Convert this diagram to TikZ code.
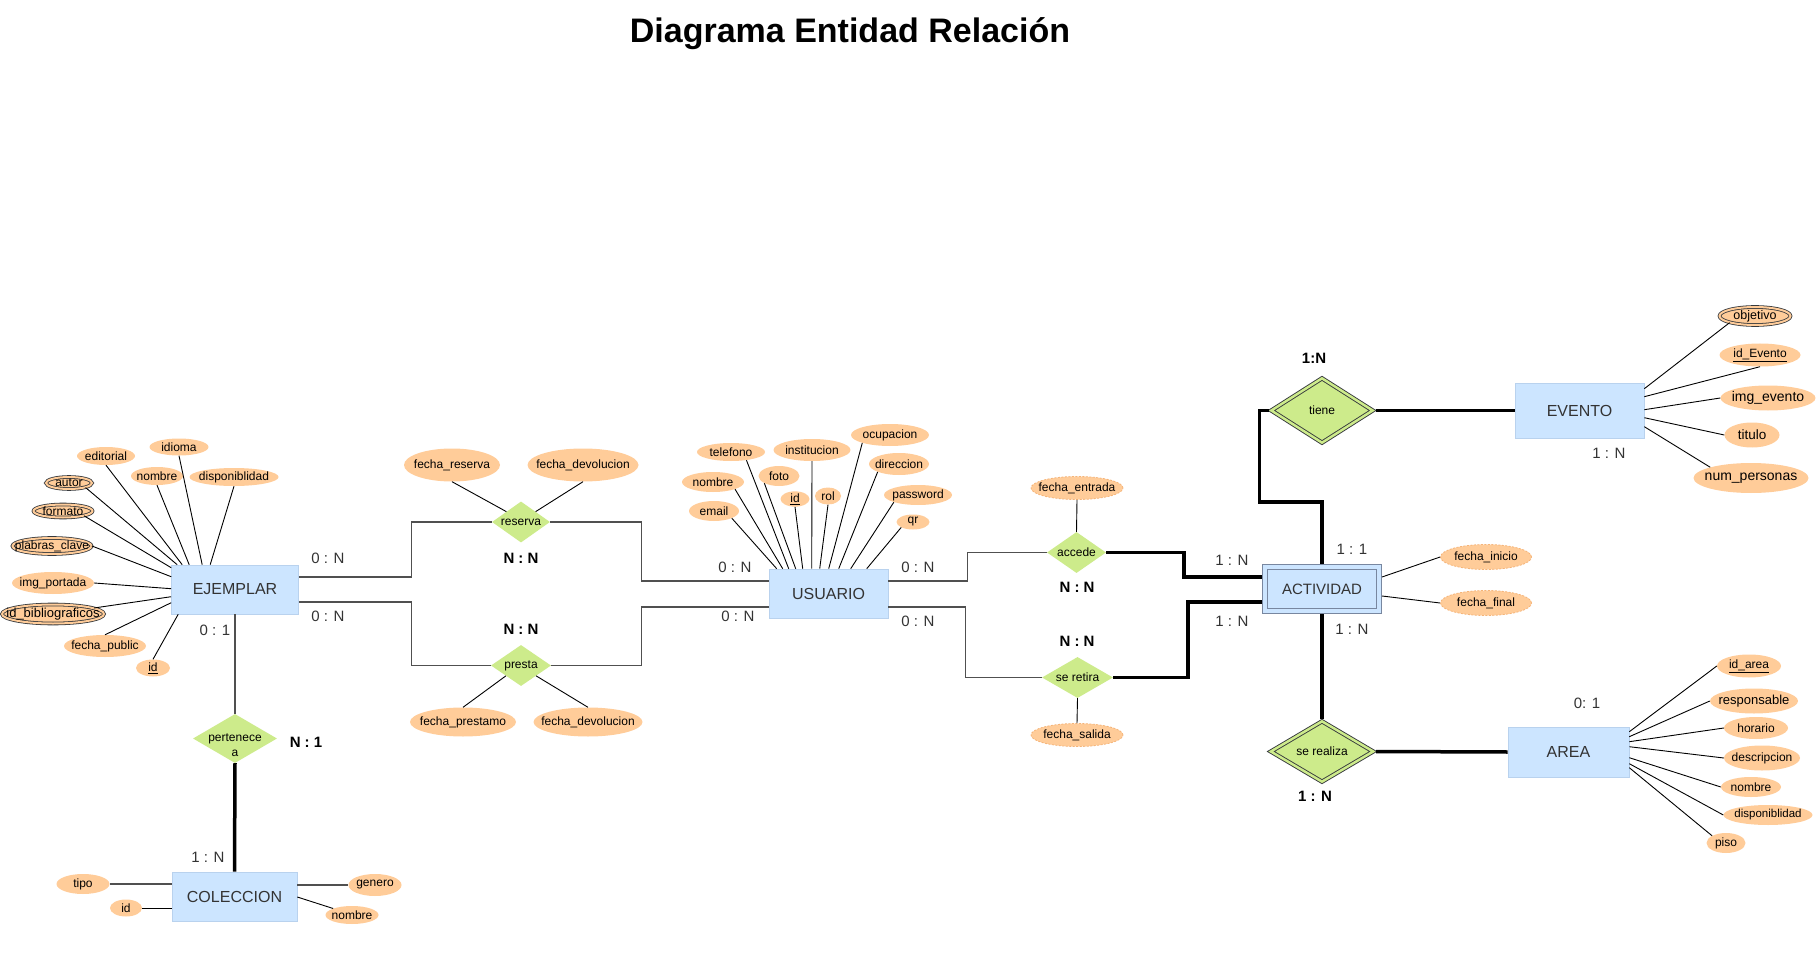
\documentclass[tikz,border=0pt]{standalone}
\usepackage{fontspec}
\setmainfont{Liberation Sans}
\usetikzlibrary{shapes.geometric}
\definecolor{entfill}{RGB}{204,229,255}
\definecolor{entdraw}{RGB}{185,210,238}
\definecolor{attrfill}{RGB}{255,204,153}
\definecolor{attrdash}{RGB}{245,180,120}
\definecolor{relfill}{RGB}{205,235,139}
\definecolor{darkline}{RGB}{54,57,61}
\definecolor{conn}{RGB}{80,80,80}
\definecolor{txt}{RGB}{51,51,51}
\definecolor{actdraw}{RGB}{120,135,160}
\newcommand{\fsz}[1]{\fontsize{#1pt}{#1pt}\selectfont}
\newcommand{\zb}[1]{\makebox[0pt]{#1}}
\tikzset{
 ent/.style={rectangle, fill=entfill, draw=entdraw, line width=0.6pt, inner sep=0pt, text=txt, font=\fsz{16}},
 attr/.style={ellipse, fill=attrfill, inner sep=0pt, text=black, font=\fsz{12}},
 mattr/.style={attr, draw=darkline, line width=0.8pt, double=attrfill, double distance=2pt},
 dattr/.style={attr, draw=attrdash, line width=0.8pt, dash pattern=on 2pt off 1.5pt},
 rel/.style={diamond, fill=relfill, inner sep=0pt, font=\fsz{12}, text=black},
 wrel/.style={rel, draw=darkline, line width=0.9pt, double=relfill, double distance=2.5pt, outer sep=2pt},
 card/.style={font=\fsz{15}, text=txt, inner sep=0pt},
 cardb/.style={font=\bfseries\fsz{15}, text=black, inner sep=0pt},
 al/.style={draw=black, line width=0.9pt},
 cl/.style={draw=conn, line width=1.2pt},
 tl/.style={draw=black, line width=3.5pt},
 sz/.style 2 args={minimum width=#1pt, minimum height=#2pt},
}
\begin{document}
\begin{tikzpicture}[x=1pt,y=-1pt]
\fill[white] (0,0) rectangle (1820,973);
\useasboundingbox (0,0) rectangle (1820,973);

\node[inner sep=0pt, font=\bfseries\fsz{34}] (title) at (850,34) {Diagrama Entidad Relación};

% ---------- entities ----------
\node[ent, sz={127}{49}] (ej) at (235,589.5) {EJEMPLAR};
\node[ent, sz={119}{49}] (us) at (828.5,593.5) {USUARIO};
\node[ent, sz={125}{49}] (col) at (234.5,896.5) {COLECCION};
\node[ent, sz={129}{55}] (ev) at (1579.5,410.5) {EVENTO};
\node[ent, sz={121}{50}] (area) at (1568.5,752) {AREA};
\node[ent, sz={114}{44}, draw=actdraw, line width=1pt, double=entfill, double distance=4pt, outer sep=3pt, font=\fsz{15}] (act) at (1322,589) {ACTIVIDAD};

% ---------- relations ----------
\node[rel, sz={58}{41}] (res) at (521,522) {\zb{reserva}};
\node[rel, sz={60}{41}] (pre) at (521,665.5) {\zb{presta}};
\node[rel, sz={84}{49}] (pert) at (235,738.5) {\zb{\raisebox{-11pt}[0pt][0pt]{\begin{tabular}{@{}c@{}}pertenece\\[3pt]a\end{tabular}}}};
\node[rel, sz={59}{41}] (acc) at (1076.5,552.5) {\zb{accede}};
\node[rel, sz={71}{41}] (ret) at (1077.5,677.5) {\zb{se retira}};
\node[wrel, sz={103}{66}] (tiene) at (1322,410.5) {\zb{tiene}};
\node[wrel, sz={104}{62}] (real) at (1322,751.5) {\zb{se realiza}};

% ---------- EJEMPLAR attributes ----------
\node[attr, sz={58}{18}] (edi) at (106,456) {\zb{editorial}};
\node[attr, sz={59}{17}] (idi) at (179,447) {\zb{idioma}};
\node[mattr, sz={46}{12}] (aut) at (69,483) {\zb{autor}};
\node[attr, sz={52}{18}] (enom) at (157,476) {\zb{nombre}};
\node[attr, sz={89}{18}] (edis) at (234,477) {\zb{disponiblidad}};
\node[mattr, sz={59}{13}] (form) at (63,511) {\zb{formato}};
\node[mattr, sz={79}{16}] (pcl) at (52,546) {\zb{plabras\_clave}};
\node[attr, sz={82}{22}] (imgp) at (53,583) {\zb{img\_portada}};
\node[mattr, sz={102}{19}, font=\fsz{13}] (idb) at (53,614) {\zb{id\_bibliograficos}};
\node[attr, sz={82}{22}] (fpub) at (105,646) {\zb{fecha\_public}};
\node[attr, sz={34}{17}] (eid) at (153,668) {\zb{\underline{id}}};

\draw[al] (aut.south east) -- ([xshift=6pt]ej.north west);
\draw[al] (edi.south) -- ([xshift=11pt]ej.north west);
\draw[al] (enom.south) -- ([xshift=18pt]ej.north west);
\draw[al] (idi.south) -- ([xshift=31pt]ej.north west);
\draw[al] (edis.south) -- ([xshift=39pt]ej.north west);
\draw[al] (form.south east) -- ([yshift=-3pt]ej.north west);
\draw[al] (pcl.east) -- ([yshift=-12pt]ej.north west);
\draw[al] (imgp.east) -- ([yshift=-24pt]ej.north west);
\draw[al] (idb) -- ([yshift=-32pt]ej.north west);
\draw[al] (fpub.north) -- ([yshift=-38pt]ej.north west);
\draw[al] (eid.north) -- ([xshift=7pt]ej.south west);

% ---------- USUARIO attributes ----------
\node[attr, sz={68}{18}] (tel) at (731,452) {\zb{telefono}};
\node[attr, sz={77}{22}] (inst) at (812,450) {\zb{institucion}};
\node[attr, sz={78}{22}] (ocu) at (890,435) {\zb{ocupacion}};
\node[attr, sz={62}{20}] (unom) at (713,482) {\zb{nombre}};
\node[attr, sz={41}{20}] (foto) at (779,476) {\zb{foto}};
\node[attr, sz={60}{22}] (dir) at (899,464) {\zb{direccion}};
\node[attr, sz={29}{15}] (uid) at (795,499) {\zb{\underline{id}}};
\node[attr, sz={26}{17}] (rol) at (828,496) {\zb{rol}};
\node[attr, sz={68}{20}] (pass) at (918,495) {\zb{password}};
\node[attr, sz={50}{20}] (mail) at (714,511) {\zb{email}};
\node[attr, sz={33}{15}] (qr) at (913,522) {\zb{qr}};

\draw[al] (mail.south east) -- ([xshift=8pt]us.north west);
\draw[al] (unom.south east) -- ([xshift=14pt]us.north west);
\draw[al] (tel.-28) -- ([xshift=20pt]us.north west);
\draw[al] (foto.south west) -- ([xshift=27pt]us.north west);
\draw[al] (uid.south) -- ([xshift=34pt]us.north west);
\draw[al] (inst.south) -- ([xshift=43pt]us.north west);
\draw[al] (rol.south) -- ([xshift=51pt]us.north west);
\draw[al] (ocu.south west) -- ([xshift=60pt]us.north west);
\draw[al] (dir.south west) -- ([xshift=70pt]us.north west);
\draw[al] (pass.south west) -- ([xshift=82pt]us.north west);
\draw[al] (qr.south west) -- ([xshift=98pt]us.north west);

% ---------- relation attributes ----------
\node[attr, sz={96}{33}] (fres) at (452,465) {\zb{fecha\_reserva}};
\node[attr, sz={111}{33}] (fdev1) at (583,465) {\zb{fecha\_devolucion}};
\node[attr, sz={106}{29}] (fpre) at (463,722) {\zb{fecha\_prestamo}};
\node[attr, sz={109}{29}] (fdev2) at (588,722) {\zb{fecha\_devolucion}};
\node[dattr, sz={92}{23}] (fent) at (1077,488) {\zb{fecha\_entrada}};
\node[dattr, sz={92}{23}] (fsal) at (1077,735) {\zb{fecha\_salida}};

\draw[al] (fres.south) -- (res.north west);
\draw[al] (fdev1.south) -- (res.north east);
\draw[al] (fpre.north) -- (pre.south west);
\draw[al] (fdev2.north) -- (pre.south east);
\draw[al] (fent.south) -- (acc.north);
\draw[al] (fsal.north) -- (ret.south);

% ---------- COLECCION attributes ----------
\node[attr, sz={53}{20}] (tipo) at (83,884) {\zb{tipo}};
\node[attr, sz={32}{17}] (cid) at (126,908) {\zb{id}};
\node[attr, sz={53}{22}] (gen) at (375,885) {\zb{genero}};
\node[attr, sz={53}{18}] (cnom) at (352,915) {\zb{nombre}};

\draw[cl, line width=1.6pt] (tipo.east) -- ([yshift=12.5pt]col.west);
\draw[al] (cid.east) -- ([yshift=-11.5pt]col.west);
\draw[cl, line width=1.6pt] ([yshift=11.5pt]col.east) -- (gen.west);
\draw[al] ([yshift=-0.5pt]col.east) -- (cnom.north west);

% ---------- EVENTO attributes ----------
\node[mattr, sz={71}{18}, font=\fsz{12.5}] (obj) at (1755,316) {\zb{objetivo}};
\node[attr, sz={81}{23}] (ide) at (1760,355) {\zb{\underline{id\_Evento}}};
\node[attr, sz={95}{25}, font=\fsz{14}] (imge) at (1768,398) {\zb{img\_evento}};
\node[attr, sz={55}{25}, font=\fsz{13.5}] (tit) at (1752,435) {\zb{titulo}};
\node[attr, sz={115}{30}, font=\fsz{14}] (nump) at (1751,478) {\zb{num\_personas}};

\draw[al] (obj.south west) -- ([yshift=-6pt]ev.north east);
\draw[al] (ide.south) -- ([yshift=-14pt]ev.north east);
\draw[al] (imge.west) -- ([yshift=-27pt]ev.north east);
\draw[al] (tit.west) -- ([yshift=-35pt]ev.north east);
\draw[al] (nump.north west) -- ([yshift=-44pt]ev.north east);

% ---------- ACTIVIDAD attributes ----------
\node[dattr, sz={91}{25}] (fini) at (1486,557) {\zb{fecha\_inicio}};
\node[dattr, sz={91}{25}] (ffin) at (1486,603) {\zb{fecha\_final}};
\draw[al] ([yshift=12pt]act.east) -- (fini.west);
\draw[al] ([yshift=-7pt]act.east) -- (ffin.west);

% ---------- AREA attributes ----------
\node[attr, sz={64}{23}] (ida) at (1749,666) {\zb{\underline{id\_area}}};
\node[attr, sz={88}{25}, font=\fsz{13}] (resp) at (1754,701) {\zb{responsable}};
\node[attr, sz={64}{22}] (hor) at (1756,728) {\zb{horario}};
\node[attr, sz={76}{25}] (desc) at (1762,758) {\zb{descripcion}};
\node[attr, sz={60}{20}] (anom) at (1751,787) {\zb{nombre}};
\node[attr, sz={89}{20}, font=\fsz{11.5}] (adis) at (1768,815) {\zb{disponiblidad}};
\node[attr, sz={39}{20}] (piso) at (1726,843) {\zb{piso}};

\draw[al] ([yshift=-5pt]area.north east) -- (ida.west);
\draw[al] ([yshift=-10pt]area.north east) -- (resp.west);
\draw[al] ([yshift=-15pt]area.north east) -- (hor.west);
\draw[al] ([yshift=-20pt]area.north east) -- (desc.west);
\draw[al] ([yshift=-31pt]area.north east) -- (anom.west);
\draw[al] ([yshift=-37pt]area.north east) -- (adis.west);
\draw[al] ([yshift=-41pt]area.north east) -- (piso.north west);

% ---------- connectors ----------
\draw[cl] ([yshift=12.5pt]ej.east) -- ++(113,0) |- (res.west);
\draw[cl] (res.east) -- ++(91,0) |- ([yshift=12.5pt]us.west);
\draw[cl] ([yshift=-12.5pt]ej.east) -- ++(113,0) |- (pre.west);
\draw[cl] (pre.east) -- ++(90,0) |- ([yshift=-13.5pt]us.west);
\draw[cl] ([yshift=12.5pt]us.east) -- ++(79,0) |- (acc.west);
\draw[cl] ([yshift=-13.5pt]us.east) -- ++(77,0) |- (ret.west);
\draw[tl] (acc.east) -- ++(78,0) |- ([yshift=12pt]act.west);
\draw[tl] (ret.east) -- ++(75,0) |- ([yshift=-13pt]act.west);
\draw[tl] (tiene.west) -- ++(-9,0) -- ++(0,91.5) -| (act.north);
\draw[tl] (tiene.east) -- (ev.west);
\draw[tl] (act.south) -- (real.north);
\draw[tl] (real.east) -- (area.west);
\draw[cl, line width=1.6pt] (ej.south) -- (pert.north);
\draw[tl] (pert.south) -- (col.north);

% ---------- cardinalities ----------
\node[card] (k1) at (328,558) {0 : N};
\node[card] (k2) at (328,616) {0 : N};
\node[card] (k3) at (215,630) {0 : 1};
\node[cardb] (k4) at (306,742) {N : 1};
\node[card] (k5) at (208,857) {1 : N};
\node[cardb] (k6) at (521,558) {N : N};
\node[cardb] (k7) at (521,629) {N : N};
\node[card] (k8) at (735,567) {0 : N};
\node[card] (k9) at (738,616) {0 : N};
\node[card] (k10) at (918,567) {0 : N};
\node[card] (k11) at (918,621) {0 : N};
\node[cardb] (k12) at (1077,587) {N : N};
\node[cardb] (k13) at (1077,641) {N : N};
\node[card] (k14) at (1232,560) {1 : N};
\node[card] (k15) at (1232,621) {1 : N};
\node[cardb] (k16) at (1314,358) {1:N};
\node[card] (k17) at (1609,453) {1 : N};
\node[card] (k18) at (1352,549) {1 : 1};
\node[card] (k19) at (1352,629) {1 : N};
\node[cardb] (k20) at (1315,796) {1 : N};
\node[card] (k21) at (1587,703) {0: 1};
\end{tikzpicture}
\end{document}
